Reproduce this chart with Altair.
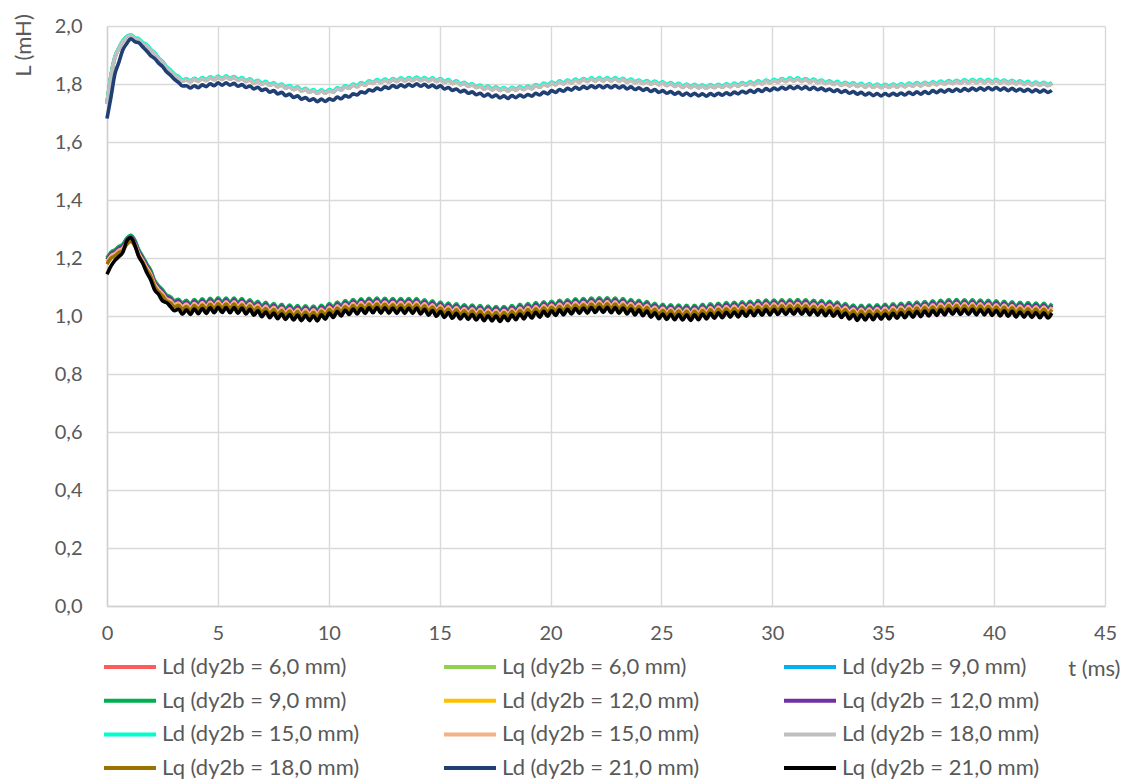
import altair as alt
import pandas as pd

# Sampling interval of the simulated inductance traces (ms)
T_STEP = 0.179

# d-axis inductance, dy2b = 15,0 mm (mH)
ld_15 = [
    1.735, 1.830, 1.895, 1.925, 1.950, 1.964, 1.970, 1.960, 1.956, 1.943, 1.936, 1.920, 1.908, 1.890, 1.878, 1.860, 1.848, 1.834, 1.826, 1.814, 1.818,
    1.811, 1.820, 1.813, 1.822, 1.815, 1.825, 1.818, 1.827, 1.819, 1.828,
    1.820, 1.826, 1.816, 1.822, 1.812, 1.818, 1.807, 1.813, 1.803, 1.809,
    1.799, 1.804, 1.794, 1.800, 1.789, 1.795, 1.784, 1.790, 1.779, 1.785,
    1.775, 1.781, 1.771, 1.780, 1.772, 1.781, 1.776, 1.787, 1.783, 1.794,
    1.789, 1.800, 1.794, 1.805, 1.800, 1.811, 1.806, 1.815, 1.808, 1.817,
    1.810, 1.819, 1.812, 1.821, 1.814, 1.822, 1.815, 1.824, 1.815, 1.822,
    1.814, 1.821, 1.812, 1.819, 1.809, 1.815, 1.805, 1.811, 1.801, 1.806,
    1.796, 1.801, 1.791, 1.796, 1.786, 1.793, 1.783, 1.790, 1.781, 1.788,
    1.779, 1.789, 1.782, 1.791, 1.784, 1.793, 1.787, 1.798, 1.792, 1.803,
    1.797, 1.807, 1.801, 1.811, 1.804, 1.814, 1.807, 1.817, 1.810, 1.819,
    1.812, 1.821, 1.814, 1.822, 1.814, 1.822, 1.814, 1.822, 1.813, 1.820,
    1.810, 1.817, 1.808, 1.814, 1.805, 1.812, 1.803, 1.810, 1.801, 1.808,
    1.798, 1.805, 1.795, 1.802, 1.792, 1.800, 1.791, 1.799, 1.790, 1.797,
    1.789, 1.798, 1.791, 1.799, 1.792, 1.801, 1.794, 1.803, 1.796, 1.805,
    1.799, 1.808, 1.801, 1.811, 1.804, 1.814, 1.807, 1.816, 1.810, 1.819,
    1.812, 1.821, 1.814, 1.821, 1.812, 1.819, 1.810, 1.817, 1.808, 1.814,
    1.805, 1.811, 1.802, 1.809, 1.799, 1.806, 1.797, 1.804, 1.795, 1.802,
    1.793, 1.801, 1.792, 1.800, 1.791, 1.799, 1.792, 1.800, 1.793, 1.801,
    1.794, 1.803, 1.796, 1.805, 1.797, 1.806, 1.799, 1.808, 1.801, 1.810,
    1.803, 1.812, 1.805, 1.813, 1.806, 1.815, 1.807, 1.816, 1.808, 1.816,
    1.808, 1.816, 1.808, 1.816, 1.807, 1.814, 1.805, 1.813, 1.804, 1.811,
    1.802, 1.809, 1.800, 1.807, 1.799, 1.806, 1.798, 1.805,
]

# d-axis inductance, dy2b = 21,0 mm (mH)
ld_21 = [
    1.681, 1.755, 1.835, 1.875, 1.918, 1.940, 1.956, 1.946, 1.942, 1.928, 1.914, 1.898, 1.888, 1.872, 1.860, 1.842, 1.830, 1.816, 1.806, 1.793, 1.794,
    1.786, 1.794, 1.787, 1.797, 1.791, 1.801, 1.794, 1.804, 1.796, 1.804,
    1.796, 1.802, 1.792, 1.798, 1.788, 1.793, 1.783, 1.789, 1.778, 1.783,
    1.772, 1.777, 1.766, 1.771, 1.760, 1.765, 1.754, 1.759, 1.748, 1.753,
    1.743, 1.749, 1.739, 1.748, 1.740, 1.749, 1.744, 1.755, 1.749, 1.760,
    1.755, 1.766, 1.762, 1.773, 1.769, 1.780, 1.776, 1.786, 1.780, 1.790,
    1.785, 1.795, 1.788, 1.797, 1.790, 1.799, 1.792, 1.801, 1.792, 1.799,
    1.789, 1.796, 1.787, 1.794, 1.783, 1.788, 1.778, 1.783, 1.773, 1.778,
    1.768, 1.773, 1.763, 1.768, 1.758, 1.765, 1.755, 1.762, 1.752, 1.759,
    1.750, 1.760, 1.753, 1.762, 1.755, 1.764, 1.758, 1.768, 1.762, 1.772,
    1.766, 1.777, 1.771, 1.781, 1.775, 1.785, 1.779, 1.789, 1.782, 1.791,
    1.785, 1.794, 1.787, 1.795, 1.787, 1.795, 1.787, 1.795, 1.786, 1.793,
    1.783, 1.790, 1.781, 1.787, 1.778, 1.784, 1.774, 1.781, 1.771, 1.777,
    1.768, 1.774, 1.765, 1.771, 1.761, 1.769, 1.760, 1.768, 1.759, 1.766,
    1.758, 1.767, 1.760, 1.768, 1.761, 1.770, 1.763, 1.772, 1.766, 1.775,
    1.769, 1.778, 1.771, 1.781, 1.774, 1.784, 1.777, 1.786, 1.780, 1.789,
    1.782, 1.791, 1.784, 1.791, 1.783, 1.790, 1.781, 1.789, 1.780, 1.786,
    1.777, 1.783, 1.774, 1.780, 1.771, 1.777, 1.768, 1.774, 1.765, 1.771,
    1.762, 1.769, 1.760, 1.767, 1.759, 1.767, 1.760, 1.768, 1.761, 1.769,
    1.762, 1.771, 1.764, 1.773, 1.765, 1.774, 1.767, 1.777, 1.770, 1.779,
    1.772, 1.781, 1.774, 1.783, 1.775, 1.784, 1.777, 1.786, 1.778, 1.787,
    1.779, 1.788, 1.780, 1.788, 1.779, 1.786, 1.777, 1.785, 1.776, 1.783,
    1.775, 1.782, 1.773, 1.780, 1.772, 1.779, 1.771, 1.778,
]

# q-axis inductance, dy2b = 9,0 mm (mH)
lq_9 = [
    1.200, 1.220, 1.228, 1.240, 1.247, 1.268, 1.278, 1.262, 1.228, 1.205, 1.180, 1.158, 1.122, 1.104, 1.090, 1.072, 1.066, 1.052, 1.058, 1.044, 1.054,
    1.040, 1.057, 1.043, 1.059, 1.044, 1.061, 1.046, 1.063, 1.047, 1.062,
    1.046, 1.062, 1.045, 1.060, 1.042, 1.056, 1.038, 1.051, 1.033, 1.047,
    1.029, 1.043, 1.026, 1.040, 1.023, 1.038, 1.021, 1.036, 1.019, 1.035,
    1.019, 1.034, 1.018, 1.037, 1.024, 1.043, 1.030, 1.048, 1.035, 1.053,
    1.040, 1.057, 1.042, 1.059, 1.044, 1.061, 1.046, 1.062, 1.045, 1.061,
    1.045, 1.060, 1.044, 1.060, 1.044, 1.060, 1.044, 1.060, 1.042, 1.056,
    1.038, 1.052, 1.034, 1.048, 1.030, 1.045, 1.027, 1.042, 1.025, 1.039,
    1.023, 1.038, 1.021, 1.036, 1.019, 1.034, 1.018, 1.033, 1.016, 1.033,
    1.019, 1.036, 1.022, 1.040, 1.025, 1.043, 1.028, 1.046, 1.031, 1.049,
    1.034, 1.051, 1.037, 1.054, 1.039, 1.056, 1.042, 1.059, 1.044, 1.060,
    1.045, 1.062, 1.047, 1.063, 1.047, 1.063, 1.046, 1.062, 1.045, 1.060,
    1.042, 1.057, 1.039, 1.054, 1.036, 1.050, 1.031, 1.044, 1.026, 1.040,
    1.023, 1.039, 1.022, 1.038, 1.021, 1.037, 1.020, 1.037, 1.022, 1.040,
    1.025, 1.042, 1.027, 1.044, 1.029, 1.046, 1.031, 1.047, 1.032, 1.049,
    1.034, 1.051, 1.036, 1.053, 1.038, 1.055, 1.039, 1.055, 1.040, 1.056,
    1.040, 1.056, 1.041, 1.057, 1.041, 1.056, 1.039, 1.054, 1.038, 1.053,
    1.036, 1.051, 1.034, 1.048, 1.030, 1.043, 1.025, 1.038, 1.020, 1.037,
    1.021, 1.038, 1.022, 1.039, 1.024, 1.040, 1.025, 1.042, 1.027, 1.044,
    1.029, 1.046, 1.031, 1.048, 1.033, 1.050, 1.035, 1.052, 1.037, 1.054,
    1.039, 1.057, 1.041, 1.057, 1.040, 1.056, 1.040, 1.056, 1.039, 1.055,
    1.039, 1.054, 1.037, 1.052, 1.035, 1.051, 1.034, 1.049, 1.032, 1.047,
    1.031, 1.046, 1.030, 1.045, 1.029, 1.044, 1.028, 1.043,
]

# q-axis inductance, dy2b = 21,0 mm (mH)
lq_21 = [
    1.144, 1.172, 1.192, 1.205, 1.220, 1.259, 1.270, 1.245, 1.205, 1.182, 1.150, 1.125, 1.090, 1.074, 1.052, 1.046, 1.032, 1.018, 1.024, 1.006, 1.021,
    1.005, 1.024, 1.008, 1.026, 1.009, 1.028, 1.011, 1.030, 1.012, 1.029,
    1.011, 1.029, 1.010, 1.027, 1.007, 1.023, 1.003, 1.018, 0.998, 1.014,
    0.994, 1.010, 0.991, 1.007, 0.988, 1.005, 0.986, 1.003, 0.984, 1.002,
    0.984, 1.001, 0.983, 1.004, 0.989, 1.010, 0.995, 1.015, 1.000, 1.020,
    1.005, 1.024, 1.007, 1.026, 1.009, 1.028, 1.011, 1.029, 1.010, 1.028,
    1.010, 1.027, 1.009, 1.027, 1.009, 1.027, 1.009, 1.027, 1.007, 1.023,
    1.003, 1.019, 0.999, 1.015, 0.995, 1.012, 0.992, 1.009, 0.990, 1.006,
    0.988, 1.005, 0.986, 1.003, 0.984, 1.001, 0.983, 1.000, 0.981, 1.000,
    0.984, 1.003, 0.987, 1.007, 0.990, 1.010, 0.993, 1.013, 0.996, 1.016,
    0.999, 1.018, 1.002, 1.021, 1.004, 1.023, 1.007, 1.026, 1.009, 1.027,
    1.010, 1.029, 1.012, 1.030, 1.012, 1.030, 1.011, 1.029, 1.010, 1.027,
    1.007, 1.024, 1.004, 1.021, 1.001, 1.017, 0.996, 1.011, 0.991, 1.007,
    0.988, 1.006, 0.987, 1.005, 0.986, 1.004, 0.985, 1.004, 0.987, 1.007,
    0.990, 1.009, 0.992, 1.011, 0.994, 1.013, 0.996, 1.014, 0.997, 1.016,
    0.999, 1.018, 1.001, 1.020, 1.003, 1.022, 1.004, 1.022, 1.005, 1.023,
    1.005, 1.023, 1.006, 1.024, 1.006, 1.023, 1.004, 1.021, 1.003, 1.020,
    1.001, 1.018, 0.999, 1.015, 0.995, 1.010, 0.990, 1.005, 0.985, 1.004,
    0.986, 1.005, 0.987, 1.006, 0.989, 1.007, 0.990, 1.009, 0.992, 1.011,
    0.994, 1.013, 0.996, 1.015, 0.998, 1.017, 1.000, 1.019, 1.002, 1.021,
    1.004, 1.024, 1.006, 1.024, 1.005, 1.023, 1.005, 1.023, 1.004, 1.022,
    1.004, 1.021, 1.002, 1.019, 1.000, 1.018, 0.999, 1.016, 0.997, 1.014,
    0.996, 1.013, 0.995, 1.012, 0.994, 1.011, 0.993, 1.010,
]

# Series labels, in drawing order
series_names = [
    "Ld (dy2b = 6,0 mm)", "Lq (dy2b = 6,0 mm)", "Ld (dy2b = 9,0 mm)",
    "Lq (dy2b = 9,0 mm)", "Ld (dy2b = 12,0 mm)", "Lq (dy2b = 12,0 mm)",
    "Ld (dy2b = 15,0 mm)", "Lq (dy2b = 15,0 mm)", "Ld (dy2b = 18,0 mm)",
    "Lq (dy2b = 18,0 mm)", "Ld (dy2b = 21,0 mm)", "Lq (dy2b = 21,0 mm)",
]

# Each series: recorded trace it follows and its constant shift from it (mH)
series_trace = ["ld15", "lq9", "ld15", "lq9", "ld15", "lq9",
                "ld15", "lq9", "ld15", "lq9", "ld21", "lq21"]
series_shift = [-0.003, -0.001, -0.002, 0.0, -0.003, -0.006,
                0.0, -0.013, -0.004, -0.021, 0.0, 0.0]

traces = {"ld15": ld_15, "ld21": ld_21, "lq9": lq_9, "lq21": lq_21}

series_colors = [
    "#FF5B5B", "#92D050", "#00B0F0",
    "#00B050", "#FFC000", "#7030A0",
    "#00FFCC", "#F4B183", "#BFBFBF",
    "#997300", "#203F74", "#000000",
]

rows = []
for name, key, shift in zip(series_names, series_trace, series_shift):
    for i, v in enumerate(traces[key]):
        rows.append({"series": name, "t": round(i * T_STEP, 4), "L": round(v + shift, 4)})
df = pd.DataFrame(rows)

# The legend grid fills column by column (4 rows x 3 columns); order the
# scale domain so that the entries read row by row in drawing order.
N_COLS, N_ROWS = 3, 4
legend_order = [r * N_COLS + c for c in range(N_COLS) for r in range(N_ROWS)]
domain = [series_names[i] for i in legend_order]
palette = [series_colors[i] for i in legend_order]

FONT = "Lato"
TEXT = "#595959"

color = alt.Color(
    "series:N",
    scale=alt.Scale(domain=domain, range=palette),
    legend=alt.Legend(
        title=None,
        orient="none",
        legendX=-5,
        legendY=631,
        columns=N_COLS,
        columnPadding=82,
        rowPadding=11.7,
        padding=0,
        symbolType="stroke",
        symbolSize=2704,
        symbolStrokeWidth=4,
        clipHeight=20,
        labelFont=FONT,
        labelFontSize=22,
        labelColor=TEXT,
        labelLimit=400,
        labelOffset=4,
    ),
)

x = alt.X(
    "t:Q",
    scale=alt.Scale(domain=[0, 45], nice=False),
    axis=alt.Axis(
        values=list(range(0, 50, 5)),
        title="t (ms)",
        titleX=1013,
        titleY=62,
        titleAlign="right",
        titleBaseline="middle",
        labelPadding=17,
        labelFlush=False,
    ),
)
y = alt.Y(
    "L:Q",
    scale=alt.Scale(domain=[0, 2], nice=False),
    axis=alt.Axis(
        values=[0, 0.2, 0.4, 0.6, 0.8, 1.0, 1.2, 1.4, 1.6, 1.8, 2.0],
        labelExpr="replace(format(datum.value, '.1f'), '.', ',')",
        title="L (mH)",
        titleAngle=270,
        titleX=-84,
        titleY=19,
        titleAlign="center",
        titleBaseline="middle",
        labelPadding=25,
        labelFlush=False,
    ),
)

layers = [
    alt.Chart(df)
    .transform_filter(alt.datum.series == name)
    .mark_line(strokeWidth=3.6, interpolate="monotone")
    .encode(x=x, y=y, color=color)
    for name in series_names
]

chart = (
    alt.layer(*layers)
    .properties(
        width=998,
        height=580,
        autosize="none",
        padding={"left": 107, "top": 26, "right": 22, "bottom": 176},
        background="white",
    )
    .configure_view(stroke=None)
    .configure_axis(
        grid=True,
        gridColor="#D9D9D9",
        gridWidth=1.4,
        domainColor="#D0D0D0",
        domainWidth=1.4,
        ticks=False,
        labelFont=FONT,
        labelFontSize=20,
        labelColor=TEXT,
        titleFont=FONT,
        titleFontSize=22,
        titleFontWeight="normal",
        titleColor=TEXT,
    )
)

chart.save("out.html", embed_options={"renderer": "svg", "actions": False})
